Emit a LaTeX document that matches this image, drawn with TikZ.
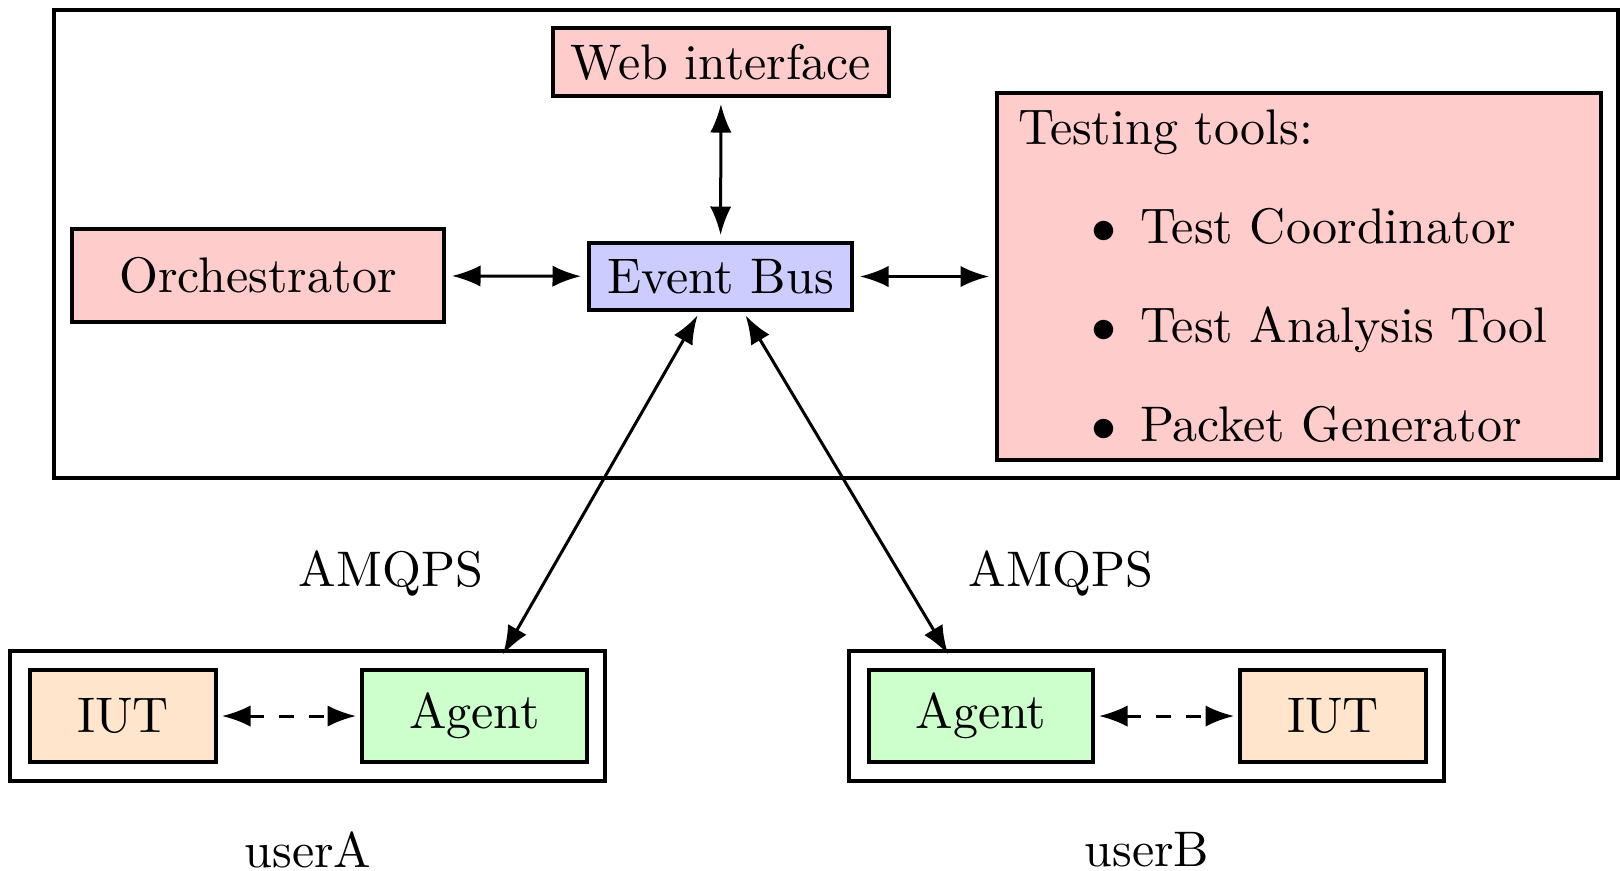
\documentclass[tikz,border=0pt]{standalone}
\usetikzlibrary{arrows.meta}
\definecolor{pinkbox}{RGB}{255,204,204}
\definecolor{bluebox}{RGB}{204,204,255}
\definecolor{greenbox}{RGB}{204,255,204}
\definecolor{orangebox}{RGB}{255,229,204}
\begin{document}
\begin{tikzpicture}[x=0.2pt,y=-0.2pt,
  box/.style={draw,thick,inner sep=0pt,minimum height=18.4pt},
  frame/.style={draw,thick,inner sep=0pt},
  link/.style={semithick,{Latex}-{Latex},shorten >=1.2pt,shorten <=1.2pt},
  dlink/.style={link,dashed,shorten >=0.8pt,shorten <=0.8pt},
  diag/.style={semithick,{Latex}-{Latex},shorten <=0.8pt,shorten >=-1.2pt},
  lbl/.style={inner sep=0pt}]
\useasboundingbox (0,0) rectangle (1620,870);
% outer frame
\node[frame,minimum width=312.8pt,minimum height=93.6pt] (sys) at (836,244) {};
\node[box,fill=pinkbox,minimum width=67.2pt,minimum height=13.6pt] (web) at (721,62) {Web interface};
\node[box,fill=pinkbox,minimum width=74.4pt,minimum height=18.6pt] (orch) at (258,275.5) {Orchestrator};
\node[box,fill=bluebox,minimum width=52.6pt,minimum height=13.4pt] (eb) at (720.5,276.5) {Event Bus};
\node[box,fill=pinkbox,minimum width=120.8pt,minimum height=73.4pt,text width=112.4pt,inner xsep=4.2pt,align=left] (tools) at (1299,276.5)
  {Testing tools:\\[7.8pt]
   \hspace*{14.6pt}$\bullet$\hspace{4.8pt}Test Coordinator\\[7.8pt]
   \hspace*{14.6pt}$\bullet$\hspace{4.8pt}Test Analysis Tool\\[7.8pt]
   \hspace*{14.6pt}$\bullet$\hspace{4.8pt}Packet Generator};
% user A
\node[frame,minimum width=119pt,minimum height=26pt] (ua) at (307.5,716) {};
\node[box,fill=orangebox,minimum width=37.2pt] (iuta) at (123,716) {IUT};
\node[box,fill=greenbox,minimum width=45pt] (aga) at (474.5,716) {Agent};
% user B
\node[frame,minimum width=119pt,minimum height=26pt] (ub) at (1146.5,716) {};
\node[box,fill=greenbox,minimum width=44.8pt] (agb) at (981,716) {Agent};
\node[box,fill=orangebox,minimum width=37.2pt] (iutb) at (1333,716) {IUT};
% labels
\node[lbl] (amqa) at (391,573) {AMQPS};
\node[lbl] (amqb) at (1061,573) {AMQPS};
\node[lbl] (usera) at (308,850) {userA};
\node[lbl] (userb) at (1147,850) {userB};
% connectors
\draw[link] (web) -- (eb);
\draw[link] (orch) -- (eb);
\draw[link] (eb) -- (tools);
\draw[diag] ([xshift=-4.2pt]eb.south) -- ([xshift=39.7pt]ua.north);
\draw[diag] ([xshift=4.6pt]eb.south) -- ([xshift=-40.3pt]ub.north);
\draw[dlink] (iuta) -- (aga);
\draw[dlink] (agb) -- (iutb);
\end{tikzpicture}
\end{document}
